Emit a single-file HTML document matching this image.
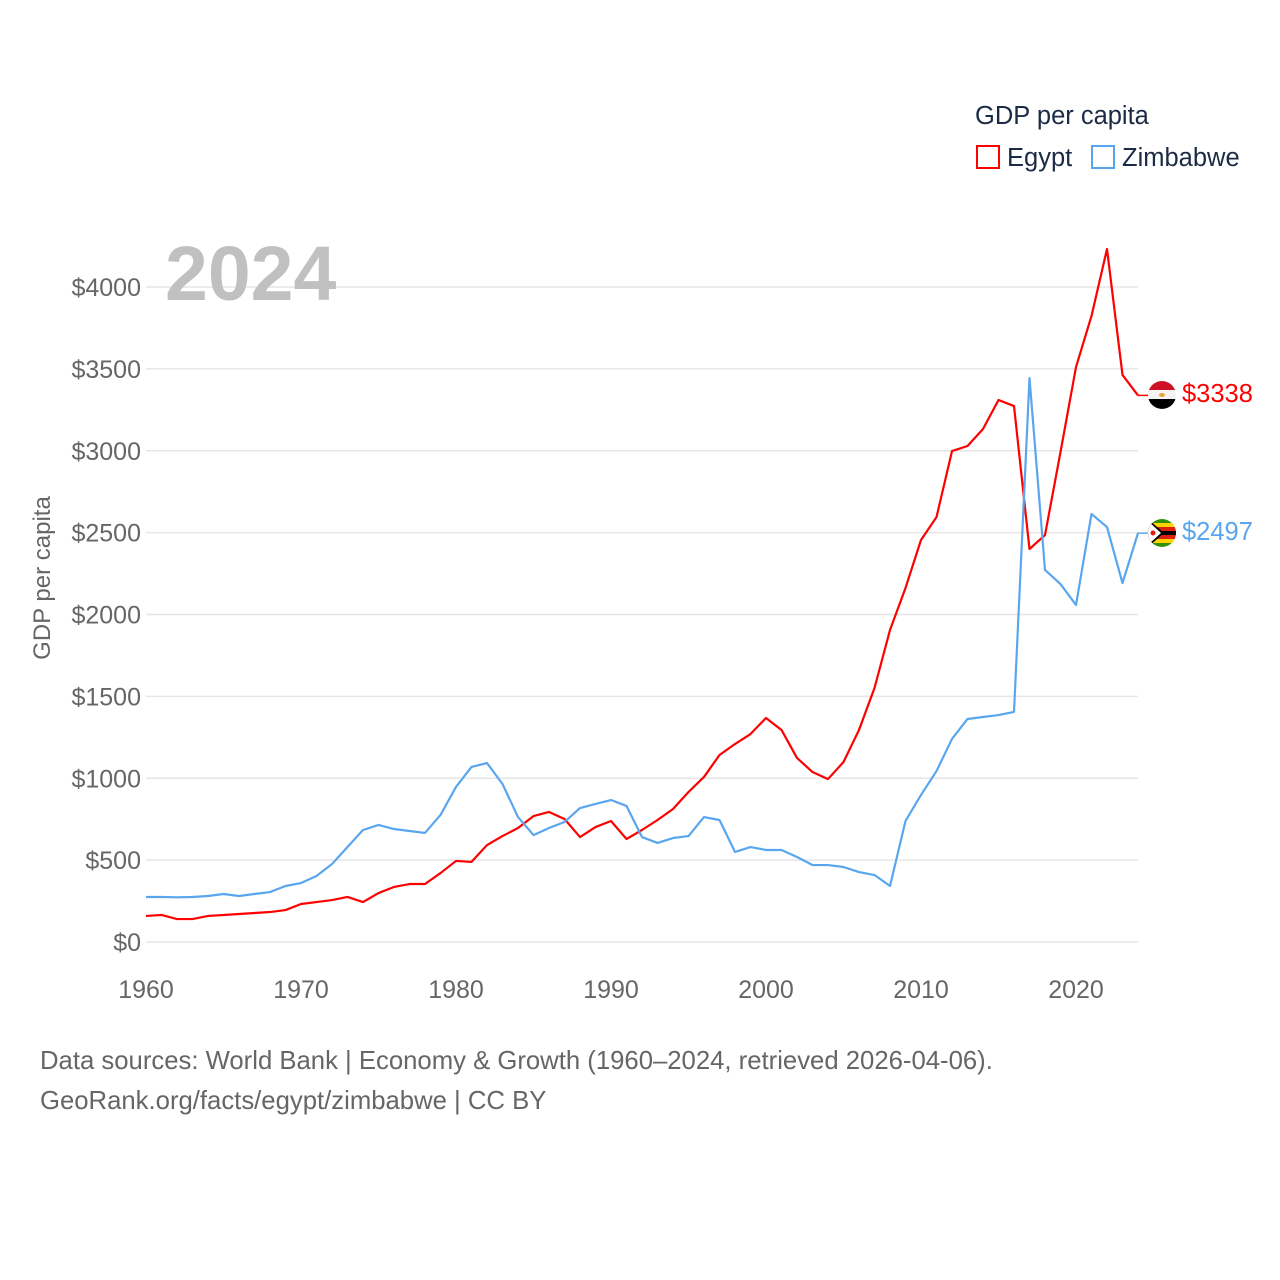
<!DOCTYPE html>
<html><head><meta charset="utf-8">
<style>
body{margin:0;background:#fff;}
svg{display:block;font-family:"Liberation Sans",sans-serif;}
</style></head>
<body>
<svg id="chart" width="1280" height="1280" viewBox="0 0 1280 1280">
<defs>
<clipPath id="c1"><circle cx="1162" cy="395" r="14"/></clipPath>
<clipPath id="c2"><circle cx="1162" cy="533" r="14"/></clipPath>
</defs>
<g id="grid"></g>
<g id="yticks"></g>
<g id="xticks"></g>
<text x="165" y="300" font-size="77" font-weight="bold" fill="#c0c0c0">2024</text>
<text transform="translate(50,578) rotate(-90)" text-anchor="middle" font-size="24" fill="#666">GDP per capita</text>
<g id="lines"></g>
<text x="975" y="124" font-size="25.5" fill="#1c2b45">GDP per capita</text>
<rect x="977" y="146" width="22" height="22" fill="none" stroke="#ff0000" stroke-width="2"/>
<text x="1007" y="166" font-size="25.5" fill="#1c2b45">Egypt</text>
<rect x="1092" y="146" width="22" height="22" fill="none" stroke="#5aa6ee" stroke-width="2"/>
<text x="1122" y="166" font-size="25.5" fill="#1c2b45">Zimbabwe</text>
<g clip-path="url(#c1)">
<rect x="1148" y="381" width="28" height="10" fill="#ce1126"/>
<rect x="1148" y="390" width="28" height="10" fill="#f4f4f4"/>
<rect x="1148" y="399" width="28" height="10" fill="#000"/>
<ellipse cx="1162" cy="395" rx="3" ry="2" fill="#e8a33d"/>
</g>
<g clip-path="url(#c2)">
<rect x="1148" y="519" width="28" height="28" fill="#319208"/>
<rect x="1148" y="523" width="28" height="4" fill="#ffd200"/>
<rect x="1148" y="527" width="28" height="4" fill="#de2010"/>
<rect x="1148" y="531" width="28" height="4" fill="#000"/>
<rect x="1148" y="535" width="28" height="4" fill="#de2010"/>
<rect x="1148" y="539" width="28" height="4" fill="#ffd200"/>
<polygon points="1148,519 1164,533 1148,547" fill="#000"/>
<polygon points="1148,521 1161,533 1148,545" fill="#fff"/>
<circle cx="1153" cy="533" r="2.5" fill="#de2010"/>
</g>
<text id="lab-eg" x="1182" y="402" font-size="25.5" fill="#ff0000"></text>
<text id="lab-zw" x="1182" y="540" font-size="25.5" fill="#5aa6ee"></text>
<text x="40" y="1069" font-size="25.7" fill="#666">Data sources: World Bank | Economy &amp; Growth (1960–2024, retrieved 2026-04-06).</text>
<text x="40" y="1109" font-size="25.7" fill="#666">GeoRank.org/facts/egypt/zimbabwe | CC BY</text>
</svg>
<script>
const years = Array.from({length:65},(_,i)=>1960+i);
const egypt = [159,165,140,140,159,165,171,177,183,195,232,244,256,275,244,299,336,354,354,421,495,489,592,647,696,769,794,751,641,702,739,629,684,745,812,916,1008,1142,1209,1270,1368,1295,1124,1038,995,1099,1295,1551,1905,2162,2455,2595,2998,3029,3133,3310,3273,2400,2485,2992,3511,3823,4232,3463,3338];
const zimbabwe = [275,275,273,275,281,293,281,293,305,342,360,403,476,580,684,715,690,678,666,776,947,1069,1093,965,763,653,696,733,818,843,867,831,641,605,635,647,763,745,550,580,562,562,519,470,470,458,427,409,342,739,898,1044,1240,1362,1374,1386,1405,3444,2272,2186,2058,2614,2534,2192,2497];
const yTicks = [0,500,1000,1500,2000,2500,3000,3500,4000];
const xTicks = [1960,1970,1980,1990,2000,2010,2020];
const NS="http://www.w3.org/2000/svg";
const X = y => 146 + (y-1960)*15.5;
const Y = v => 942 - v*0.16375;
function mk(tag, attrs, parent){const e=document.createElementNS(NS,tag);for(const k in attrs)e.setAttribute(k,attrs[k]);parent.appendChild(e);return e;}
const grid=document.getElementById('grid'), yt=document.getElementById('yticks'), xt=document.getElementById('xticks'), lines=document.getElementById('lines');
yTicks.forEach(v=>{
  const l=mk('line',{x1:146,x2:1138,y1:Y(v),y2:Y(v),stroke:'#e6e6e6','stroke-width':1.5},grid);
  
  
  const t=mk('text',{x:141,y:Y(v)+9,'text-anchor':'end','font-size':25,fill:'#666'},yt);
  
  
  t.textContent='$'+v;
});
xTicks.forEach(v=>{
  const t=mk('text',{x:X(v),y:998,'text-anchor':'middle','font-size':25,fill:'#666'},xt);
  
  
  t.textContent=v;
});
function series(vals,color,name){
  const p=mk('polyline',{points:vals.map((v,i)=>X(years[i])+','+Y(v)).join(' '),fill:'none',stroke:color,'stroke-width':2.2,'stroke-linejoin':'round'},lines);
  
  
  const last=vals[vals.length-1];
  const c=mk('line',{x1:X(years[years.length-1]),x2:1150,y1:Y(last),y2:Y(last),stroke:color,'stroke-width':1.5},lines);
  
  
}
series(egypt,'#ff0000','egypt-line');
series(zimbabwe,'#5aa6ee','zimbabwe-line');
document.getElementById('lab-eg').textContent='$'+egypt[egypt.length-1];
document.getElementById('lab-zw').textContent='$'+zimbabwe[zimbabwe.length-1];
</script>
</body></html>
